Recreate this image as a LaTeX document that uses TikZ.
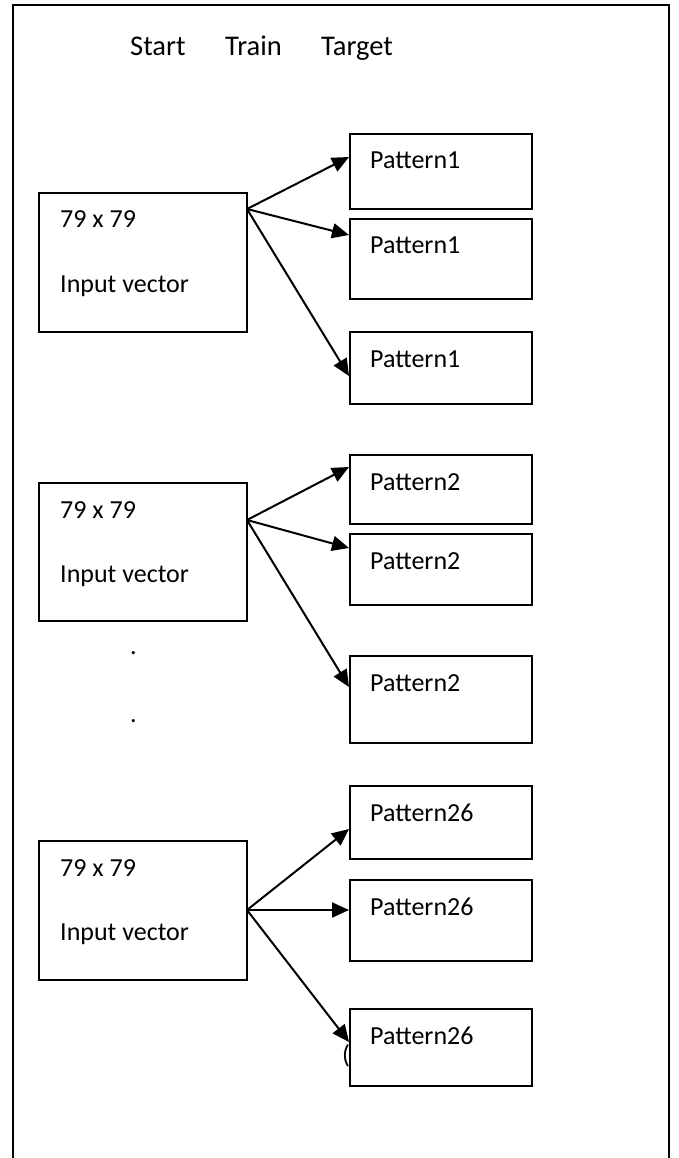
\documentclass[tikz,border=0pt]{standalone}
\usepackage{fontspec}
\setmainfont{Carlito}
\usetikzlibrary{arrows.meta}
\tikzset{
  frameline/.style={line width=2pt, draw=black},
  boxstyle/.style={draw=black, line width=2pt, fill=white, inner sep=0pt, anchor=north west},
  txt/.style={inner sep=0pt, anchor=base west, font=\fontsize{26}{30}\selectfont},
  ttl/.style={inner sep=0pt, anchor=base west, font=\fontsize{28.5}{32}\selectfont},
  arr/.style={line width=2pt, -{Triangle[length=17pt,width=15pt]}},
}
\newcommand{\patbox}[4]{%
  \node[boxstyle, minimum width=182pt, minimum height=#3pt] (#1) at (349,#2) {};
  \node[txt] (#1t) at (370,{#2+36}) {#4};
}
\newcommand{\inbox}[3]{%
  \node[boxstyle, minimum width=208pt, minimum height=#3pt] (#1) at (38,#2) {};
  \node[txt] (#1a) at (60,{#2+36}) {79 x 79};
  \node[txt] (#1b) at (60,{#2+100}) {Input vector};
}
\begin{document}
\begin{tikzpicture}[x=1pt,y=-1pt]
\useasboundingbox (0,0) rectangle (678,1158);
\fill[white] (0,0) rectangle (678,1158);
% frame
\draw[frameline] (13,1175) -- (13,5) -- (669,5) -- (669,1175);
% title
\node[ttl] (start) at (130,56) {Start};
\node[ttl] (train) at (225,56) {Train};
\node[ttl] (target) at (321,56) {Target};
% stray parenthesis
\node[txt] (paren) at (342,1063) {(};
% input boxes
\inbox{in1}{192}{139}
\inbox{in2}{482}{138}
\inbox{in3}{840}{139}
% pattern boxes
\patbox{p11}{133}{75}{Pattern1}
\patbox{p12}{218}{80}{Pattern1}
\patbox{p13}{331}{72}{Pattern1}
\patbox{p21}{454}{69}{Pattern2}
\patbox{p22}{533}{71}{Pattern2}
\patbox{p23}{655}{87}{Pattern2}
\patbox{p31}{785}{73}{Pattern26}
\patbox{p32}{879}{81}{Pattern26}
\patbox{p33}{1008}{77}{Pattern26}
% dots
\node[txt] (dot1) at (130,654) {.};
\node[txt] (dot2) at (130,722) {.};
% arrow coordinates
\coordinate (o1) at (247,209);
\coordinate (o2) at (247,520);
\coordinate (o3) at (247,910);
\coordinate (t11) at (349,157);
\coordinate (t12) at (349,235);
\coordinate (t13) at (349,376);
\coordinate (t21) at (349,467);
\coordinate (t22) at (349,548);
\coordinate (t23) at (349,687);
\coordinate (t31) at (349,829);
\coordinate (t32) at (349,910);
\coordinate (t33) at (349,1042);
\foreach \g in {1,2,3}{
  \foreach \k in {1,2,3}{
    \draw[arr] (o\g) -- (t\g\k);
  }
}
\end{tikzpicture}
\end{document}
